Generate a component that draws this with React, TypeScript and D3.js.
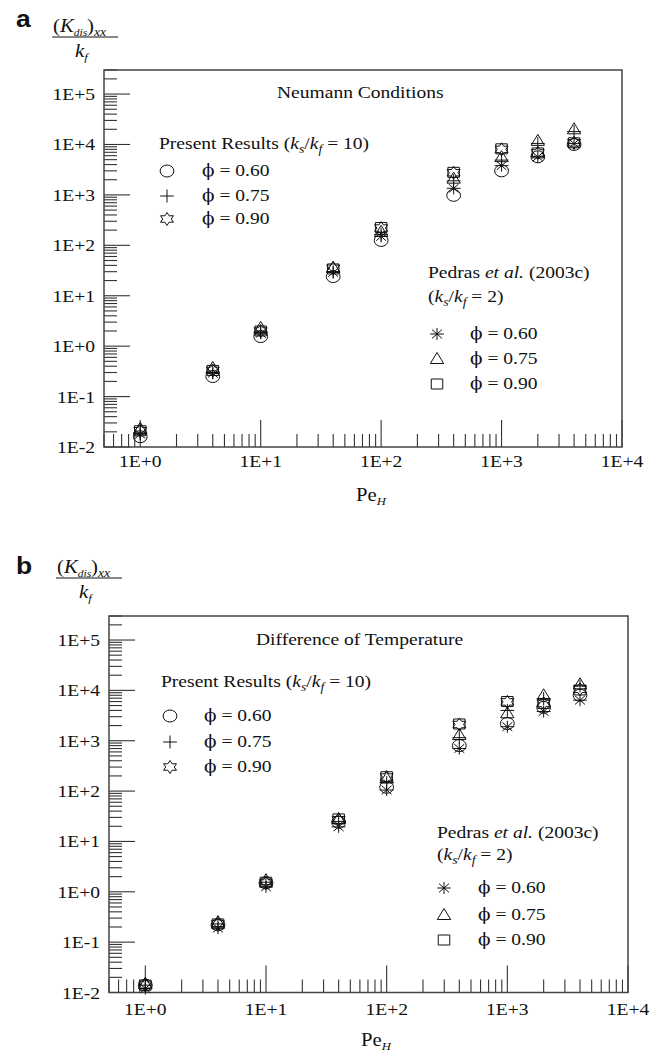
import React from 'react';
import * as d3 from 'd3';

// ---------- data ----------
const peValues = [1, 4, 10, 40, 100, 400, 1000, 2000, 4000];

// Panel a : Neumann Conditions
const aPresent060 = [0.016, 0.25, 1.55, 24, 125, 980, 3000, 5700, 10000];
const aPresent075 = [0.019, 0.3, 1.9, 30, 165, 1900, 4900, 10500, 18000];
const aPresent090 = [0.021, 0.33, 2.0, 35, 220, 2750, 8000, 6800, 10800];
const aPedras060 = [0.018, 0.29, 1.8, 29, 150, 1350, 3800, 5700, 10400];
const aPedras075 = [0.023, 0.37, 2.3, 36, 185, 2100, 5600, 11800, 20000];
const aPedras090 = [0.021, 0.33, 2.0, 34, 225, 2800, 8200, 6800, 10800];

// Panel b : Difference of Temperature
const bPresent060 = [0.014, 0.22, 1.5, 24, 119, 800, 2200, 4600, 8000];
const bPresent075 = [0.014, 0.23, 1.55, 25, 147, 1150, 4000, 6900, 12200];
const bPresent090 = [0.014, 0.23, 1.5, 27, 190, 2100, 5900, 5500, 10500];
const bPedras060 = [0.012, 0.19, 1.25, 19.5, 105, 700, 1900, 3800, 6400];
const bPedras075 = [0.015, 0.25, 1.7, 28, 178, 1300, 3500, 8000, 13200];
const bPedras090 = [0.014, 0.23, 1.55, 28, 193, 2150, 6000, 5500, 10200];

const xTickValues = [1, 10, 100, 1000, 10000];
const xTickLabels = ['1E+0', '1E+1', '1E+2', '1E+3', '1E+4'];
const yTickValues = [0.01, 0.1, 1, 10, 100, 1000, 10000, 100000];
const yTickLabels = ['1E-2', '1E-1', '1E+0', '1E+1', '1E+2', '1E+3', '1E+4', '1E+5'];
const phiLabels = ['0.60', '0.75', '0.90'];

const X_DOMAIN = [0.5, 10000];
const Y_DOMAIN = [0.01, 300000];

const SX = 1.15;
const SERIF = "'Liberation Serif','Times New Roman',Times,serif";
const PHI_FONT = "'DejaVu Serif','Liberation Serif',serif";
const SANS = "'Liberation Sans',Arial,Helvetica,sans-serif";

// ---------- helpers ----------
function T({ x, y, anchor = 'start', size = 17, family = SERIF, weight = 'normal', children }: any) {
  return (
    <text
      transform={`translate(${x},${y}) scale(${SX},1)`}
      textAnchor={anchor}
      fontSize={size}
      fontFamily={family}
      fontWeight={weight}
      fill="#111"
    >
      {children}
    </text>
  );
}

function hexagram(R: number, r: number) {
  const pts: string[] = [];
  for (let i = 0; i < 12; i++) {
    const a = (-90 + i * 30) * Math.PI / 180;
    const rad = i % 2 === 0 ? R : r;
    pts.push(`${(rad * Math.cos(a)).toFixed(2)},${(rad * Math.sin(a)).toFixed(2)}`);
  }
  return 'M' + pts.join('L') + 'Z';
}

const SHAPES: Record<string, string> = {
  plus: 'M-6,0H6M0,-6.5V6.5',
  star: hexagram(6.5, 3.7),
  asterisk: 'M0,-6V6M-6,0H6M-4.3,-4.3L4.3,4.3M-4.3,4.3L4.3,-4.3',
  triangle: 'M0,-6.5L5.8,4.5L-5.8,4.5Z',
  square: 'M-5,-5H5V5H-5Z',
};

function Marker({ x, y, shape }: any) {
  return (
    <g transform={`translate(${x},${y}) scale(${SX},1)`} fill="none" stroke="#111" strokeWidth={1}>
      {shape === 'circle' ? (
        <circle r={6} vectorEffect="non-scaling-stroke" />
      ) : (
        <path d={SHAPES[shape]} vectorEffect="non-scaling-stroke" />
      )}
    </g>
  );
}

function KsKf({ value }: any) {
  return (
    <>
      <tspan fontStyle="italic">k</tspan>
      <tspan fontStyle="italic" fontSize={12} dy={4}>s</tspan>
      <tspan dy={-4}>/</tspan>
      <tspan fontStyle="italic">k</tspan>
      <tspan fontStyle="italic" fontSize={12} dy={4}>f</tspan>
      <tspan dy={-4}>{` = ${value})`}</tspan>
    </>
  );
}

function PhiText({ x, y, label }: any) {
  return (
    <T x={x} y={y} size={17}>
      <tspan fontFamily={PHI_FONT} fontSize={16}>{'\u03D5'}</tspan>
      <tspan>{` = ${label}`}</tspan>
    </T>
  );
}

function Panel({ cfg }: any) {
  const x = d3.scaleLog().domain(X_DOMAIN).range([cfg.left, cfg.right]);
  const y = d3.scaleLog().domain(Y_DOMAIN).range([cfg.bottom, cfg.top]);
  const isMajor = (v: number) => Math.abs(Math.log10(v) - Math.round(Math.log10(v))) < 1e-9;
  const xt = x.ticks();
  const yt = y.ticks();

  const present = [
    { shape: 'circle', values: cfg.present[0] },
    { shape: 'plus', values: cfg.present[1] },
    { shape: 'star', values: cfg.present[2] },
  ];
  const pedras = [
    { shape: 'asterisk', values: cfg.pedras[0] },
    { shape: 'triangle', values: cfg.pedras[1] },
    { shape: 'square', values: cfg.pedras[2] },
  ];
  const all = [...pedras, ...present];

  return (
    <g>
      {/* panel letter */}
      <T x={cfg.letterX} y={cfg.letterY} size={23} family={SANS} weight="bold">{cfg.letter}</T>
      {/* y label fraction */}
      <T x={cfg.numX} y={cfg.numY} size={18}>
        <tspan>(</tspan>
        <tspan fontStyle="italic">K</tspan>
        <tspan fontStyle="italic" fontSize={10} dy={4}>dis</tspan>
        <tspan dy={-4}>)</tspan>
        <tspan fontStyle="italic" fontSize={12} dy={4}>xx</tspan>
      </T>
      <line x1={cfg.numX - 1} x2={cfg.numX + 65} y1={cfg.numY + 5} y2={cfg.numY + 5} stroke="#111" strokeWidth={1} />
      <T x={cfg.numX + 22} y={cfg.numY + 25} size={18}>
        <tspan fontStyle="italic">k</tspan>
        <tspan fontStyle="italic" fontSize={11} dy={4}>f</tspan>
      </T>

      {/* ticks */}
      <g stroke="#333" strokeWidth={1.1}>
        {xt.map((v, i) => (
          <line key={'x' + i} x1={x(v)} x2={x(v)} y1={cfg.bottom} y2={cfg.bottom - (isMajor(v) ? 27 : 13)} />
        ))}
        {yt.map((v, i) => (
          <line key={'y' + i} x1={cfg.left} x2={cfg.left + (isMajor(v) ? 26 : 13)} y1={y(v)} y2={y(v)} />
        ))}
      </g>
      <rect x={cfg.left} y={cfg.top} width={cfg.right - cfg.left} height={cfg.bottom - cfg.top} fill="none" stroke="#444" strokeWidth={1.5} />

      {/* tick labels */}
      {xTickValues.map((v, i) => (
        <T key={'xl' + i} x={x(v)} y={cfg.bottom + cfg.xLabelDy} anchor="middle">{xTickLabels[i]}</T>
      ))}
      {yTickValues.map((v, i) => (
        <T key={'yl' + i} x={cfg.left - 9} y={y(v) + 6} anchor="end">{yTickLabels[i]}</T>
      ))}

      {/* x title */}
      <T x={cfg.peX} y={cfg.peY} size={18}>
        <tspan>Pe</tspan>
        <tspan fontStyle="italic" fontSize={11} dy={4}>H</tspan>
      </T>

      {/* title */}
      <T x={cfg.titleX} y={cfg.titleY} size={17}>{cfg.title}</T>

      {/* legend: present */}
      <T x={cfg.l1X} y={cfg.l1Y} size={17}>
        <tspan>Present Results (</tspan>
        <KsKf value="10" />
      </T>
      {present.map((s, i) => (
        <g key={'l1' + i}>
          <Marker x={cfg.l1MarkerX} y={cfg.l1Rows[i]} shape={s.shape} />
          <PhiText x={cfg.l1TextX} y={cfg.l1Rows[i] + 5} label={phiLabels[i]} />
        </g>
      ))}

      {/* legend: Pedras */}
      <T x={cfg.l2X} y={cfg.l2Y} size={17}>
        <tspan>Pedras </tspan>
        <tspan fontStyle="italic">et al.</tspan>
        <tspan> (2003c)</tspan>
      </T>
      <T x={cfg.l2X} y={cfg.l2Y2} size={17}>
        <tspan>(</tspan>
        <KsKf value="2" />
      </T>
      {pedras.map((s, i) => (
        <g key={'l2' + i}>
          <Marker x={cfg.l2MarkerX} y={cfg.l2Rows[i]} shape={s.shape} />
          <PhiText x={cfg.l2TextX} y={cfg.l2Rows[i] + 5} label={phiLabels[i]} />
        </g>
      ))}

      {/* data */}
      {all.map((s, si) =>
        s.values.map((v: number, i: number) => (
          <Marker key={`d${si}-${i}`} x={x(peValues[i])} y={y(v)} shape={s.shape} />
        ))
      )}
    </g>
  );
}

const panelA = {
  letter: 'a', letterX: 16, letterY: 27,
  numX: 53, numY: 32,
  left: 104, right: 622, top: 70, bottom: 447,
  xLabelDy: 20, peX: 356, peY: 501,
  title: 'Neumann Conditions', titleX: 277, titleY: 98,
  l1X: 159, l1Y: 149, l1MarkerX: 167, l1TextX: 202, l1Rows: [171, 196, 219],
  l2X: 428, l2Y: 278, l2Y2: 302, l2MarkerX: 437, l2TextX: 470, l2Rows: [334, 359, 384],
  present: [aPresent060, aPresent075, aPresent090],
  pedras: [aPedras060, aPedras075, aPedras090],
};

const panelB = {
  letter: 'b', letterX: 16, letterY: 574,
  numX: 57, numY: 573,
  left: 109, right: 628, top: 616, bottom: 992.5,
  xLabelDy: 22, peX: 361, peY: 1046,
  title: 'Difference of Temperature', titleX: 256, titleY: 645,
  l1X: 161, l1Y: 687, l1MarkerX: 170, l1TextX: 204, l1Rows: [716, 742, 767],
  l2X: 437, l2Y: 838, l2Y2: 860, l2MarkerX: 444, l2TextX: 478, l2Rows: [888, 915, 940],
  present: [bPresent060, bPresent075, bPresent090],
  pedras: [bPedras060, bPedras075, bPedras090],
};

export default function App() {
  return (
    <svg
      width={666}
      height={1059}
      viewBox="0 0 666 1059"
      style={{ position: 'absolute', left: 0, top: 0, background: '#fff' }}
    >
      <rect width={666} height={1059} fill="#fff" />
      <Panel cfg={panelA} />
      <Panel cfg={panelB} />
    </svg>
  );
}
